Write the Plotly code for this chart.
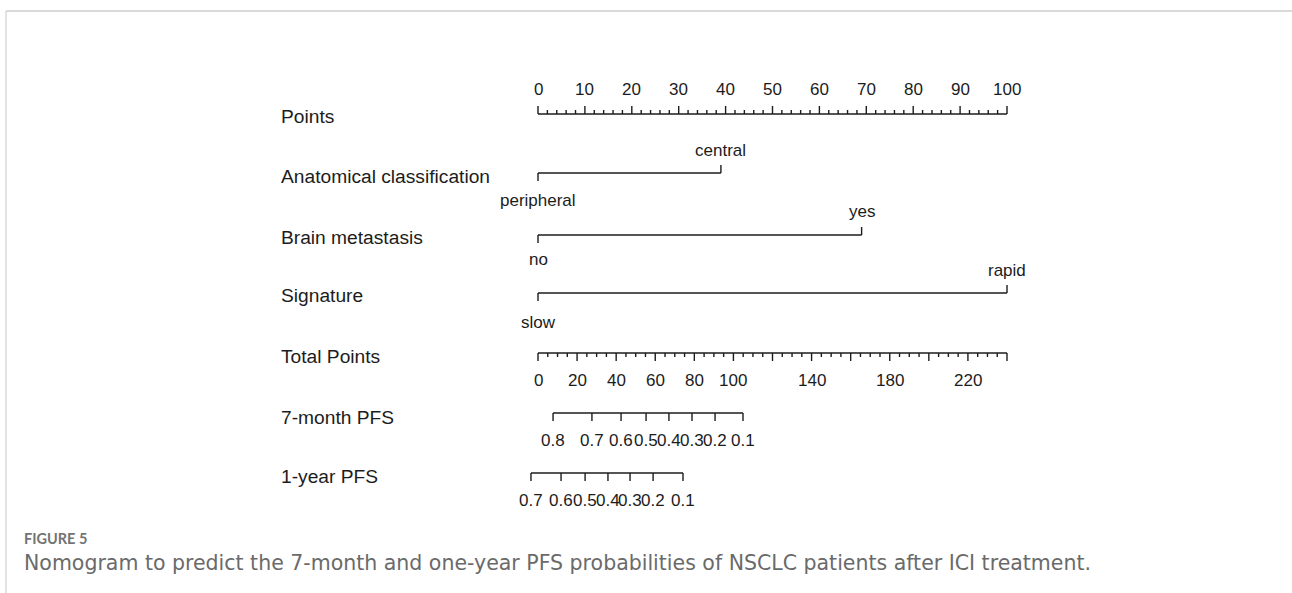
import plotly.graph_objects as go

# ---- nomogram data -------------------------------------------------------
points_ticks = list(range(0, 101, 10))          # labelled ticks of the Points scale
points_minor_step = 2

anat_levels = ["peripheral", "central"]
anat_points = [0, 39]

brain_levels = ["no", "yes"]
brain_points = [0, 69]

sig_levels = ["slow", "rapid"]
sig_points = [0, 100]

total_max = 240                                   # Total Points scale end
total_labels = [0, 20, 40, 60, 80, 100, 140, 180, 220]
total_minor_step = 5
total_major_step = 20

pfs7_probs = ["0.8", "0.7", "0.6", "0.5", "0.4", "0.3", "0.2", "0.1"]
pfs7_total = [7.7, 27.6, 42.5, 55.3, 67.0, 78.8, 90.6, 104.9]

pfs12_probs = ["0.7", "0.6", "0.5", "0.4", "0.3", "0.2", "0.1"]
pfs12_total = [-3.6, 11.8, 24.1, 35.8, 47.1, 58.9, 74.2]

row_names = ["Points", "Anatomical classification", "Brain metastasis", "Signature",
             "Total Points", "7-month PFS", "1-year PFS"]

# ---- layout constants ----------------------------------------------------
W, H = 1292, 593
X0_PX, PX_PER_PT = 538, 4.69
ROW_Y = {"Points": 114, "Anatomical classification": 173, "Brain metastasis": 235,
         "Signature": 293, "Total Points": 353, "7-month PFS": 413, "1-year PFS": 473}
LABEL_Y = {"Points": 116, "Anatomical classification": 176, "Brain metastasis": 237,
           "Signature": 295, "Total Points": 356, "7-month PFS": 417, "1-year PFS": 476}
MAJ, MIN = 8, 4
INK = "#1c1c1c"
FONT = "Liberation Sans Narrow, Arial Narrow, Liberation Sans, Arial, sans-serif"
TICK_SIZE = 17
NAME_SIZE = 19.2


def tot2pt(t):
    return t * 100.0 / total_max


xs, ys = [], []


def seg(x0, y0, x1, y1):
    xs.extend([x0, x1, None])
    ys.extend([y0, y1, None])


annotations = []


def label(x, y, text, size=TICK_SIZE, anchor="center"):
    annotations.append(dict(x=x, y=y, xref="x", yref="y", text=text, showarrow=False,
                            xanchor=anchor, yanchor="middle",
                            font=dict(family=FONT, size=size, color=INK)))


# Points scale: ticks pointing up
y = ROW_Y["Points"]
seg(0, y, 100, y)
for v in range(0, 101, points_minor_step):
    seg(v, y, v, y - (MAJ if v % 10 == 0 else MIN))
for v in points_ticks:
    label(v, 89, str(v))

# categorical predictors: first level tick down / label below, second up / above
for name, levels, pts, dy_up, dy_dn in [
        ("Anatomical classification", anat_levels, anat_points, 23, 27),
        ("Brain metastasis", brain_levels, brain_points, 24, 24),
        ("Signature", sig_levels, sig_points, 23, 29)]:
    y = ROW_Y[name]
    seg(pts[0], y, pts[1], y)
    seg(pts[0], y, pts[0], y + MAJ)
    seg(pts[1], y, pts[1], y - MAJ)
    label(pts[0], y + dy_dn, levels[0])
    label(pts[1], y - dy_up, levels[1])

# Total Points scale: ticks pointing down
y = ROW_Y["Total Points"]
seg(tot2pt(0), y, tot2pt(total_max), y)
for v in range(0, total_max + 1, total_minor_step):
    seg(tot2pt(v), y, tot2pt(v), y + (MAJ if v % total_major_step == 0 else MIN))
for v in total_labels:
    label(tot2pt(v), 380, str(v))

# survival probability scales
for name, probs, tots, ly in [("7-month PFS", pfs7_probs, pfs7_total, 440),
                              ("1-year PFS", pfs12_probs, pfs12_total, 500)]:
    y = ROW_Y[name]
    seg(tot2pt(tots[0]), y, tot2pt(tots[-1]), y)
    for p, t in zip(probs, tots):
        seg(tot2pt(t), y, tot2pt(t), y + MAJ)
        label(tot2pt(t), ly, p)

# row names
for nm in row_names:
    label((279 - X0_PX) / PX_PER_PT, LABEL_Y[nm], nm, size=NAME_SIZE, anchor="left")

fig = go.Figure()
fig.add_trace(go.Scatter(x=xs, y=ys, mode="lines", hoverinfo="skip",
                         line=dict(color=INK, width=1.4), showlegend=False))

# caption
annotations.append(dict(x=22, y=538, xref="x2", yref="y", text="<b>FIGURE 5</b>",
                        showarrow=False, xanchor="left", yanchor="middle",
                        font=dict(family="Lato, Open Sans, sans-serif", size=14.5,
                                  color="#737373")))
annotations.append(dict(x=22, y=563, xref="x2", yref="y",
                        text="Nomogram to predict the 7-month and one-year PFS probabilities "
                             "of NSCLC patients after ICI treatment.",
                        showarrow=False, xanchor="left", yanchor="middle",
                        font=dict(family="DejaVu Sans, sans-serif", size=20.5,
                                  color="#6a6a6a")))

# frame lines around the figure panel
shapes = [
    dict(type="line", xref="x2", yref="y", x0=6, y0=11, x1=W, y1=11,
         line=dict(color="#b5b5b5", width=1)),
    dict(type="line", xref="x2", yref="y", x0=6, y0=11, x1=6, y1=H,
         line=dict(color="#c8c8c8", width=1)),
]

fig.update_layout(
    width=W, height=H,
    margin=dict(l=0, r=0, t=0, b=0),
    paper_bgcolor="white", plot_bgcolor="white",
    xaxis=dict(range=[(0 - X0_PX) / PX_PER_PT, (W - X0_PX) / PX_PER_PT],
               visible=False, fixedrange=True),
    xaxis2=dict(range=[0, W], visible=False, overlaying="x", fixedrange=True),
    yaxis=dict(range=[H, 0], visible=False, fixedrange=True),
    annotations=annotations,
    shapes=shapes,
)

fig.write_html("out.html")
